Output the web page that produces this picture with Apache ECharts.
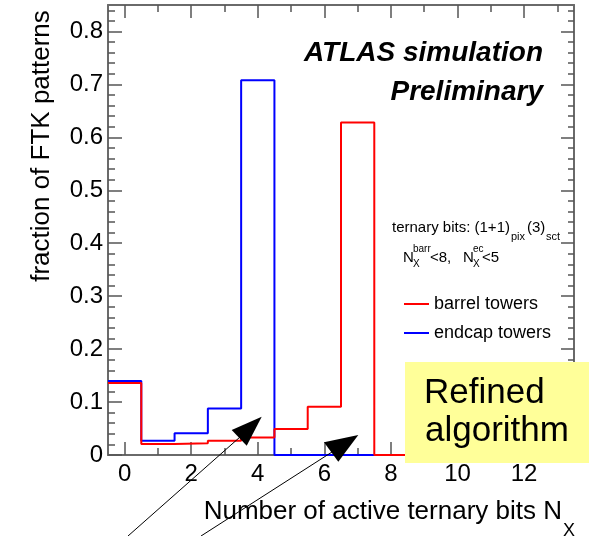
<!DOCTYPE html>
<html>
<head>
<meta charset="utf-8">
<script src="https://cdn.jsdelivr.net/npm/echarts@6/dist/echarts.min.js"></script>
<style>
  html, body { margin: 0; padding: 0; background: #fff; }
  #chart { width: 589px; height: 536px; }
</style>
</head>
<body>
<div id="chart"></div>
<script>
// ---- data ----
const binCenters = [0, 1, 2, 3, 4, 5, 6, 7, 8, 9, 10, 11, 12, 13];
const barrelValues = [0.136, 0.021, 0.022, 0.027, 0.033, 0.049, 0.091, 0.628, 0, 0, 0, 0, 0, 0];
const endcapValues = [0.140, 0.027, 0.041, 0.088, 0.708, 0, 0, 0, 0, 0, 0, 0, 0, 0];
const seriesNames = ['barrel towers', 'endcap towers'];
const xMajorTicks = [0, 2, 4, 6, 8, 10, 12];
const xMinorTicks = [1, 3, 5, 7, 9, 11, 13];
const yMajorTicks = [0, 0.1, 0.2, 0.3, 0.4, 0.5, 0.6, 0.7, 0.8];
const yMinorTicks = [0.02, 0.04, 0.06, 0.08, 0.12, 0.14, 0.16, 0.18, 0.22, 0.24, 0.26, 0.28,
  0.32, 0.34, 0.36, 0.38, 0.42, 0.44, 0.46, 0.48, 0.52, 0.54, 0.56, 0.58, 0.62, 0.64, 0.66, 0.68,
  0.72, 0.74, 0.76, 0.78, 0.82, 0.84];
const xRange = [-0.5, 13.5];
const yRange = [0, 0.85];

// histogram outline: one point per left bin edge, plus the last right edge
function histPoints(values) {
  const pts = binCenters.map((c, i) => [c - 0.5, values[i]]);
  const last = binCenters.length - 1;
  pts.push([binCenters[last] + 0.5, values[last]]);
  return pts;
}

const FONT = 'Liberation Sans, Arial, Helvetica, sans-serif';
const frameColor = '#6a6a6a';
const tickColor = '#555';

function xAxisDef(position, ticks, len, showLine, showLabels) {
  return {
    type: 'value', position: position, min: xRange[0], max: xRange[1],
    splitLine: { show: false },
    axisLine: { show: showLine, onZero: false, lineStyle: { color: frameColor, width: 2 } },
    axisTick: { show: true, inside: true, length: len, customValues: ticks,
      lineStyle: { color: tickColor, width: 1.5 } },
    axisLabel: { show: showLabels, customValues: ticks, margin: 7,
      fontSize: 24, fontFamily: FONT, color: '#000' }
  };
}
function yAxisDef(position, ticks, len, showLine, showLabels) {
  return {
    type: 'value', position: position, min: yRange[0], max: yRange[1],
    splitLine: { show: false },
    axisLine: { show: showLine, onZero: false, lineStyle: { color: frameColor, width: 2 } },
    axisTick: { show: true, inside: true, length: len, customValues: ticks,
      lineStyle: { color: tickColor, width: 1.5 } },
    axisLabel: { show: showLabels, customValues: ticks, margin: 5,
      fontSize: 24, fontFamily: FONT, color: '#000',
      formatter: v => (v === 0 ? '0' : v.toFixed(1)) }
  };
}

const chart = echarts.init(document.getElementById('chart'), null, { renderer: 'canvas' });

const option = {
  animation: false,
  backgroundColor: '#fff',
  grid: { left: 108, right: 15, top: 5, bottom: 81, containLabel: false },
  xAxis: [
    xAxisDef('bottom', xMajorTicks, 13, true, true),
    xAxisDef('bottom', xMinorTicks, 7, false, false),
    xAxisDef('top', xMajorTicks, 13, true, false),
    xAxisDef('top', xMinorTicks, 7, false, false)
  ],
  yAxis: [
    yAxisDef('left', yMajorTicks, 14, true, true),
    yAxisDef('left', yMinorTicks, 7, false, false),
    yAxisDef('right', yMajorTicks, 13, true, false),
    yAxisDef('right', yMinorTicks, 6, false, false)
  ],
  legend: {
    data: seriesNames,
    orient: 'vertical',
    left: 404, top: 294,
    padding: 0,
    icon: 'rect',
    itemWidth: 25, itemHeight: 2,
    itemGap: 9,
    textStyle: { fontSize: 18, lineHeight: 20, fontFamily: FONT, color: '#000' }
  },
  series: [
    {
      name: seriesNames[1], type: 'line', step: 'end',
      xAxisIndex: 0, yAxisIndex: 0,
      data: histPoints(endcapValues),
      showSymbol: false, symbol: 'none', clip: true, z: 3,
      itemStyle: { color: '#0000ff' },
      lineStyle: { color: '#0000ff', width: 2 }
    },
    {
      name: seriesNames[0], type: 'line', step: 'end',
      xAxisIndex: 0, yAxisIndex: 0,
      data: histPoints(barrelValues),
      showSymbol: false, symbol: 'none', clip: true, z: 4,
      itemStyle: { color: '#ff0000' },
      lineStyle: { color: '#ff0000', width: 2 }
    }
  ],
  graphic: [
    // axis titles
    { type: 'text', x: 42, y: 146, rotation: Math.PI / 2, z: 50,
      style: { text: 'fraction of FTK patterns', fontSize: 26, fontFamily: FONT,
        fill: '#000', align: 'center', verticalAlign: 'middle' } },
    { type: 'text', x: 562, y: 512, z: 50,
      style: { text: 'Number of active ternary bits N', fontSize: 26, fontFamily: FONT,
        fill: '#000', align: 'right', verticalAlign: 'middle' } },
    { type: 'text', x: 563, y: 531, z: 50,
      style: { text: 'X', fontSize: 18, fontFamily: FONT,
        fill: '#000', align: 'left', verticalAlign: 'middle' } },
    // ATLAS label
    { type: 'text', x: 543, y: 53, z: 50,
      style: { text: 'ATLAS simulation', fontSize: 28, fontWeight: 'bold', fontStyle: 'italic',
        fontFamily: FONT, fill: '#000', align: 'right', verticalAlign: 'middle' } },
    { type: 'text', x: 543, y: 92, z: 50,
      style: { text: 'Preliminary', fontSize: 28, fontWeight: 'bold', fontStyle: 'italic',
        fontFamily: FONT, fill: '#000', align: 'right', verticalAlign: 'middle' } },
    // legend header line 1
    { type: 'text', x: 392, y: 228, z: 50,
      style: { text: 'ternary bits: (1+1)', fontSize: 15, fontFamily: FONT, fill: '#000',
        align: 'left', verticalAlign: 'middle' } },
    { type: 'text', x: 511, y: 237, z: 50,
      style: { text: 'pix', fontSize: 11, fontFamily: FONT, fill: '#000',
        align: 'left', verticalAlign: 'middle' } },
    { type: 'text', x: 527, y: 228, z: 50,
      style: { text: '(3)', fontSize: 15, fontFamily: FONT, fill: '#000',
        align: 'left', verticalAlign: 'middle' } },
    { type: 'text', x: 546, y: 237, z: 50,
      style: { text: 'sct', fontSize: 11, fontFamily: FONT, fill: '#000',
        align: 'left', verticalAlign: 'middle' } },
    // legend header line 2
    { type: 'text', x: 403, y: 258, z: 50,
      style: { text: 'N', fontSize: 15, fontFamily: FONT, fill: '#000',
        align: 'left', verticalAlign: 'middle' } },
    { type: 'text', x: 413, y: 264, z: 50,
      style: { text: 'X', fontSize: 10, fontFamily: FONT, fill: '#000',
        align: 'left', verticalAlign: 'middle' } },
    { type: 'text', x: 413, y: 249, z: 50,
      style: { text: 'barr', fontSize: 10, fontFamily: FONT, fill: '#000',
        align: 'left', verticalAlign: 'middle' } },
    { type: 'text', x: 430, y: 258, z: 50,
      style: { text: '<8,', fontSize: 15, fontFamily: FONT, fill: '#000',
        align: 'left', verticalAlign: 'middle' } },
    { type: 'text', x: 463, y: 258, z: 50,
      style: { text: 'N', fontSize: 15, fontFamily: FONT, fill: '#000',
        align: 'left', verticalAlign: 'middle' } },
    { type: 'text', x: 473, y: 264, z: 50,
      style: { text: 'X', fontSize: 10, fontFamily: FONT, fill: '#000',
        align: 'left', verticalAlign: 'middle' } },
    { type: 'text', x: 473, y: 249, z: 50,
      style: { text: 'ec', fontSize: 10, fontFamily: FONT, fill: '#000',
        align: 'left', verticalAlign: 'middle' } },
    { type: 'text', x: 482, y: 258, z: 50,
      style: { text: '<5', fontSize: 15, fontFamily: FONT, fill: '#000',
        align: 'left', verticalAlign: 'middle' } },
    // "Refined algorithm" sticker
    { type: 'rect', z: 60, shape: { x: 405, y: 362, width: 184, height: 101 },
      style: { fill: '#ffff99' } },
    { type: 'text', x: 424, y: 393, z: 61,
      style: { text: 'Refined', fontSize: 35, fontFamily: FONT, fill: '#000',
        align: 'left', verticalAlign: 'middle' } },
    { type: 'text', x: 425, y: 431, z: 61,
      style: { text: 'algorithm', fontSize: 35, fontFamily: FONT, fill: '#000',
        align: 'left', verticalAlign: 'middle' } },
    // arrows
    { type: 'line', z: 70, shape: { x1: 128, y1: 536, x2: 240, y2: 437 },
      style: { stroke: '#000', lineWidth: 1 } },
    { type: 'polygon', z: 70, shape: { points: [[261.7, 416.7], [231.7, 430], [246.7, 445.7]] },
      style: { fill: '#000' } },
    { type: 'line', z: 70, shape: { x1: 201, y1: 536, x2: 332, y2: 452 },
      style: { stroke: '#000', lineWidth: 1 } },
    { type: 'polygon', z: 70, shape: { points: [[358.3, 435], [324, 442.3], [338.3, 461.7]] },
      style: { fill: '#000' } }
  ]
};

chart.setOption(option);
</script>
</body>
</html>
